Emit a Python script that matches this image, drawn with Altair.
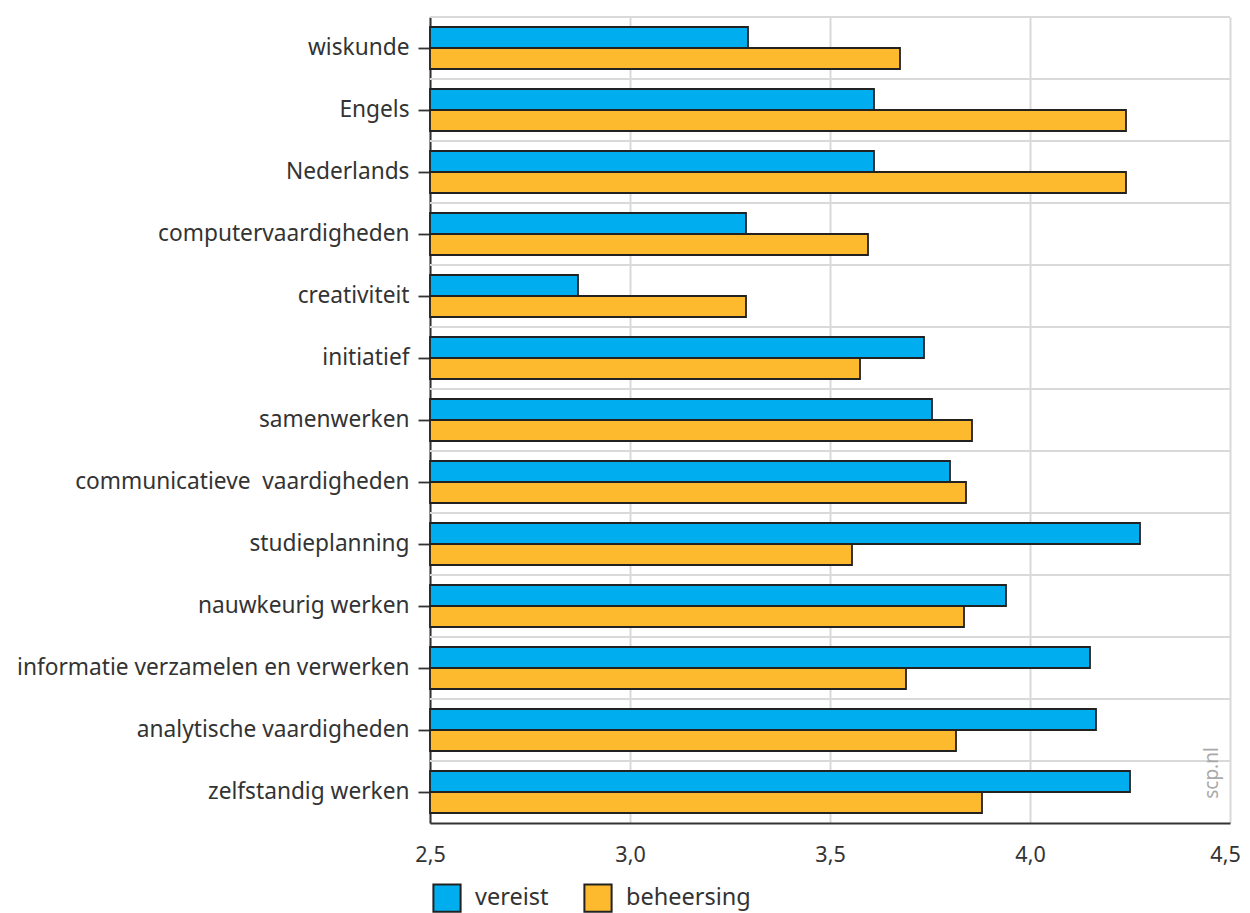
import altair as alt
import pandas as pd

categories = [
    "wiskunde", "Engels", "Nederlands", "computervaardigheden", "creativiteit",
    "initiatief", "samenwerken", "communicatieve\u00a0 vaardigheden", "studieplanning",
    "nauwkeurig werken", "informatie verzamelen en verwerken",
    "analytische vaardigheden", "zelfstandig werken",
]
vereist = [3.295, 3.61, 3.61, 3.29, 2.87, 3.735, 3.755, 3.80, 4.275, 3.94, 4.15, 4.165, 4.25]
beheersing = [3.675, 4.24, 4.24, 3.595, 3.29, 3.575, 3.855, 3.84, 3.555, 3.835, 3.69, 3.815, 3.88]
series = ["vereist", "beheersing"]
colors = ["#00AEEF", "#FDBA2F"]
x_min, x_max = 2.5, 4.5
x_ticks = [2.5, 3.0, 3.5, 4.0, 4.5]

rows = []
for c, v, b in zip(categories, vereist, beheersing):
    rows.append({"cat": c, "serie": "vereist", "val": v, "base": x_min})
    rows.append({"cat": c, "serie": "beheersing", "val": b, "base": x_min})
df = pd.DataFrame(rows)
cat_df = pd.DataFrame({"cat": categories})

FONT = "Noto Sans"
yscale = alt.Scale(domain=categories, paddingInner=0, paddingOuter=0)
xscale = alt.Scale(domain=[x_min, x_max], nice=False, zero=False)
yaxis = alt.Axis(labelFontSize=22.7, labelFont=FONT, labelColor="#333333",
                 tickSize=12, tickColor="#333333", tickWidth=1.8,
                 domainColor="#333333", domainWidth=2, labelPadding=9,
                 grid=False, labelLimit=500)

grid = alt.Chart(cat_df).mark_rule(color="#d9d9d9", strokeWidth=2).encode(
    y=alt.Y("cat:N", scale=yscale, sort=categories, bandPosition=0, title=None, axis=yaxis),
    x=alt.value(0),
    x2=alt.value(800),
)

bars = alt.Chart(df).mark_bar(stroke="#222222", strokeWidth=1.8).encode(
    y=alt.Y("cat:N", scale=yscale, sort=categories, title=None, axis=yaxis),
    yOffset=alt.YOffset("serie:N", sort=series,
                        scale=alt.Scale(paddingInner=0, paddingOuter=0.476)),
    x=alt.X("val:Q", title=None, scale=xscale,
            axis=alt.Axis(values=x_ticks,
                          labelExpr="replace(format(datum.value, '.1f'), '.', ',')",
                          labelOffset=alt.ExprRef(expr="datum.value == 4.5 ? -5 : 0"),
                          labelFontSize=21.5, labelFont=FONT, labelColor="#333333",
                          labelFlush=False, ticks=False, labelPadding=21,
                          domainColor="#333333", domainWidth=2,
                          grid=True, gridColor="#d9d9d9", gridWidth=2)),
    x2=alt.X2("base:Q"),
    fill=alt.Fill("serie:N", sort=series,
                  scale=alt.Scale(domain=series, range=colors),
                  legend=alt.Legend(title=None, orient="none", legendX=2, legendY=866,
                                    direction="horizontal", symbolType="square",
                                    symbolSize=740, symbolStrokeColor="#222222",
                                    symbolStrokeWidth=2, labelFontSize=23.5,
                                    labelFont=FONT, labelColor="#333333",
                                    columnPadding=31, labelOffset=13)),
)

wm = alt.Chart(pd.DataFrame({"t": ["scp.nl"]})).mark_text(
    angle=270, color="#aaaaaa", fontSize=19, font=FONT, align="center", baseline="middle"
).encode(text="t:N", x=alt.value(782), y=alt.value(756))

chart = alt.layer(grid, bars, wm).properties(
    width=800, height=806,
    autosize=alt.AutoSizeParams(type="none"),
    padding={"left": 422, "top": 9, "right": 12, "bottom": 90},
).configure_view(stroke=None)

chart.save("out.html", embed_options={"renderer": "svg", "actions": False})
